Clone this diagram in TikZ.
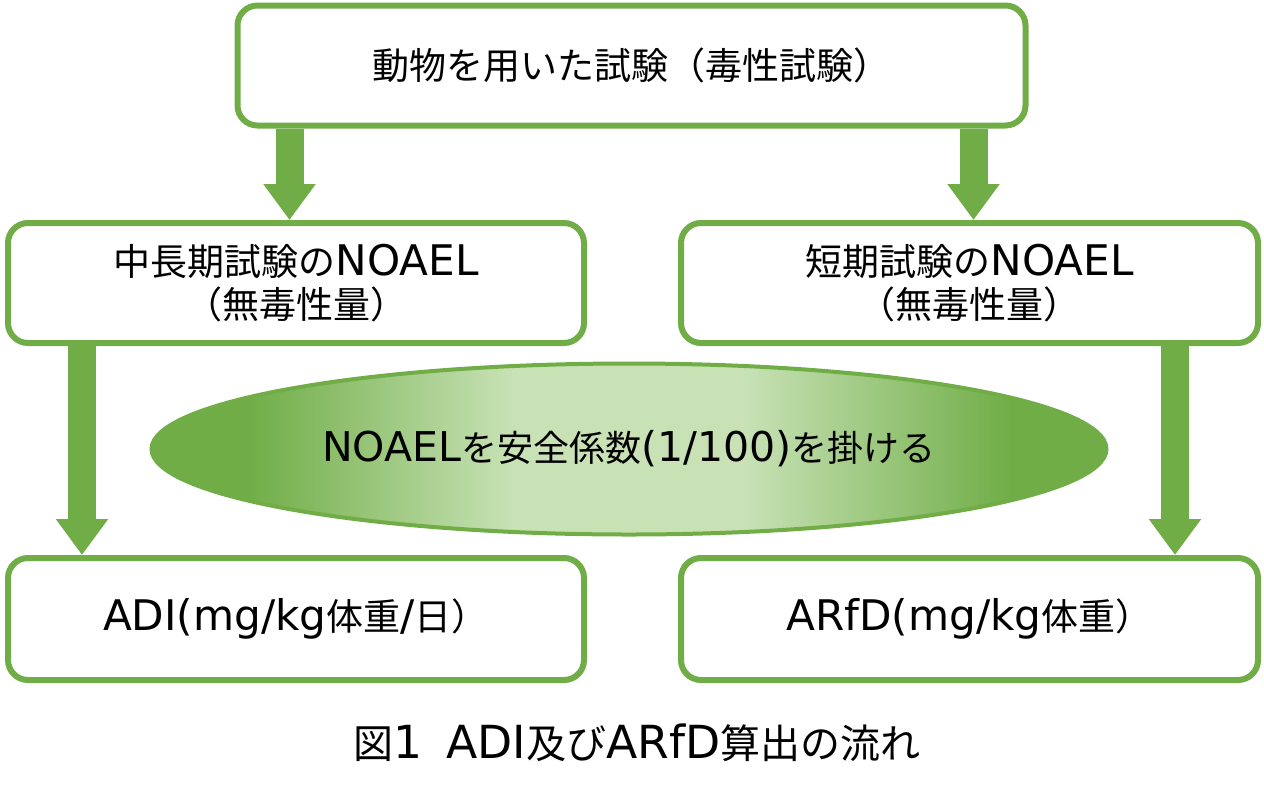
\documentclass[tikz,border=0pt]{standalone}
\usepackage{fontspec}
\setmainfont{Noto Sans CJK JP}
\newfontfamily\latfont[Scale=1.14]{DejaVu Sans}
\newcommand\lt[1]{{\latfont #1}}
\usetikzlibrary{arrows.meta,shapes.geometric}
\definecolor{grn}{HTML}{70AD47}
\definecolor{lgrn}{HTML}{C8E2B6}
\pgfdeclarehorizontalshading{ellshade}{100bp}{color(0bp)=(grn); color(25bp)=(grn); color(30bp)=(grn); color(44bp)=(lgrn); color(56bp)=(lgrn); color(70bp)=(grn); color(75bp)=(grn); color(100bp)=(grn)}
\tikzset{
  box/.style={draw=grn, line width=6pt, rounded corners=20pt, fill=white, align=center,
    font=\fontsize{37}{43}\selectfont, inner sep=0pt},
  bigarrow/.style={draw=grn, line width=28pt, -{Triangle[width=50pt,length=36pt]}},
}
\begin{document}
\begin{tikzpicture}[x=1pt,y=-1pt]
\useasboundingbox (0,0) rectangle (1264,788);
\node[box, minimum width=788pt, minimum height=120pt] (top) at (631.5,65.5) {動物を用いた試験（毒性試験）};
\node[box, minimum width=576pt, minimum height=120pt] (L) at (296,283) {中長期試験の\lt{NOAEL}\\（無毒性量）};
\node[box, minimum width=577pt, minimum height=120pt] (R) at (969.5,283) {短期試験の\lt{NOAEL}\\（無毒性量）};
\node[box, minimum width=576pt, minimum height=122pt] (LB) at (296,619) {\lt{ADI(mg/kg}体重\lt{/}日）};
\node[box, minimum width=577pt, minimum height=122pt] (RB) at (969.5,619) {\lt{ARfD(mg/kg}体重）};
\node[ellipse, draw=grn, line width=4pt, inner sep=0pt, minimum width=955pt, minimum height=171pt,
  shading=ellshade, font=\fontsize{36}{46}\selectfont] (E) at (629,449) {\lt{NOAEL}を安全係数\lt{(1/100)}を掛ける};
\draw[bigarrow] ([xshift=55pt]top.south west) -- ([xshift=55pt]top.south west |- L.north);
\draw[bigarrow] ([xshift=-55pt]top.south east) -- ([xshift=-55pt]top.south east |- R.north);
\draw[bigarrow] ([xshift=77pt]L.south west) -- ([xshift=77pt]L.south west |- LB.north);
\draw[bigarrow] ([xshift=-86pt]R.south east) -- ([xshift=-86pt]R.south east |- RB.north);
\node[font=\fontsize{40}{46}\selectfont, inner sep=0pt] (cap) at (637,743) {図\lt{1}\hspace{0.6em}\lt{ADI}及び\lt{ARfD}算出の流れ};
\end{tikzpicture}
\end{document}
